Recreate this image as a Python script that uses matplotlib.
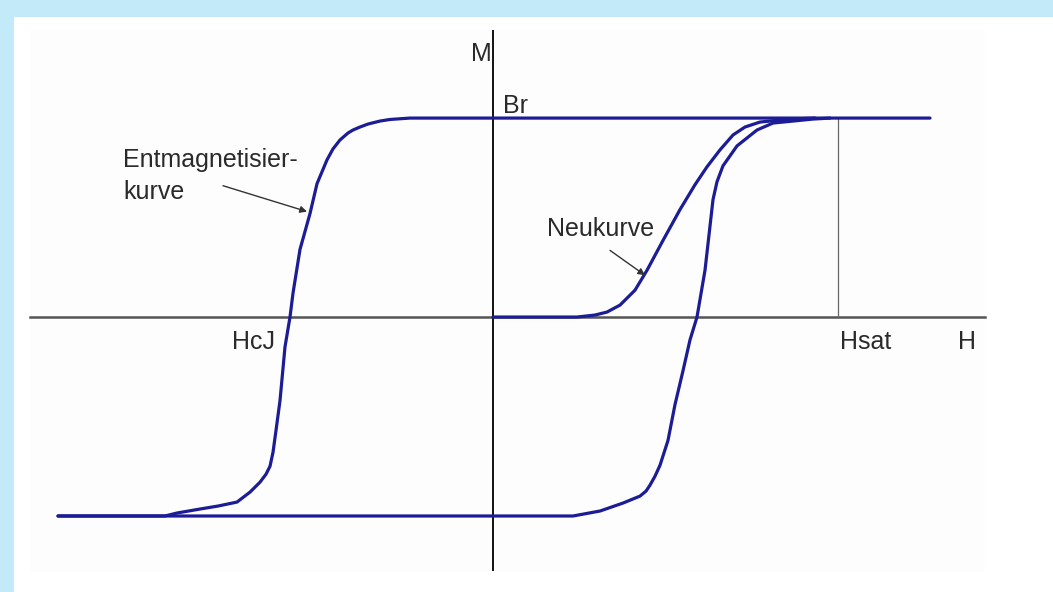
import matplotlib.pyplot as plt
from matplotlib.patches import Rectangle

# Hysteresis loop, values (H, M normalised to Br = 1)
upper_H = [4.37, -0.43, -0.83, -1.03, -1.13, -1.25, -1.33, -1.40, -1.45, -1.53, -1.60, -1.66,
           -1.76, -1.83, -1.93, -2.00, -2.03, -2.08, -2.13, -2.17, -2.20, -2.23, -2.27,
           -2.33, -2.43, -2.56, -2.75, -2.93, -3.16, -3.28, -4.35]
upper_M = [1.0, 1.0, 1.0, 0.993, 0.985, 0.97, 0.955, 0.94, 0.925, 0.89, 0.845, 0.79,
           0.67, 0.52, 0.34, 0.12, 0.0, -0.15, -0.42, -0.57, -0.68, -0.75, -0.79,
           -0.83, -0.88, -0.93, -0.95, -0.965, -0.985, -1.0, -1.0]

lower_H = [-4.35, 0.80, 1.07, 1.30, 1.47, 1.53, 1.57, 1.62, 1.67, 1.75, 1.82, 1.90, 1.97,
           2.04, 2.12, 2.20, 2.24, 2.30, 2.44, 2.64, 2.80, 3.20, 3.37]
lower_M = [-1.0, -1.0, -0.975, -0.935, -0.9, -0.875, -0.845, -0.8, -0.745, -0.62, -0.44,
           -0.27, -0.115, 0.0, 0.235, 0.59, 0.68, 0.76, 0.86, 0.94, 0.975, 0.995, 1.0]

virgin_H = [0.0, 0.84, 1.02, 1.14, 1.27, 1.42, 1.54, 1.70, 1.87, 2.02, 2.14, 2.27,
            2.40, 2.52, 2.67, 2.97, 3.22]
virgin_M = [0.0, 0.0, 0.01, 0.025, 0.06, 0.135, 0.235, 0.385, 0.54, 0.665, 0.755, 0.84,
            0.915, 0.955, 0.98, 0.995, 1.0]

H_sat = 3.45
H_cJ = -2.03

curve_col = '#1c1c96'
text_col = '#2a2a2a'

plt.rcParams['font.family'] = ['Liberation Sans', 'DejaVu Sans']

fig = plt.figure(figsize=(10.53, 5.92), dpi=100, facecolor='#c2eaf9')
ax = fig.add_axes([14 / 1053, 0, 1 - 14 / 1053, 1 - 17 / 592])
ax.set_facecolor('white')
ax.set_xlim(-4.79, 5.60)
ax.set_ylim(-1.382, 1.508)
ax.axis('off')
ax.add_patch(Rectangle((-4.79, -1.382), 10.39, 2.89, facecolor='white', zorder=0))
ax.add_patch(Rectangle((-4.63, -1.28), 9.55, 2.73, facecolor='#fdfdfd',
                       edgecolor='none', zorder=0))

# axes
ax.plot([-4.63, 4.92], [0, 0], color='#555555', lw=1.8, zorder=1)
ax.plot([0, 0], [-1.27, 1.44], color='#111111', lw=1.4, zorder=1)
ax.plot([H_sat, H_sat], [0, 1.0], color='#666666', lw=0.9, zorder=1)

# curves
for hh, mm in [(upper_H, upper_M), (lower_H, lower_M), (virgin_H, virgin_M)]:
    ax.plot(hh, mm, color=curve_col, lw=2.3, solid_joinstyle='round',
            solid_capstyle='round', zorder=3)

fs = 18
ax.text(-0.12, 1.32, 'M', fontsize=fs, color=text_col, ha='center', va='center')
ax.text(0.10, 1.06, 'Br', fontsize=fs, color=text_col, ha='left', va='center')
ax.text(H_cJ - 0.37, -0.125, 'HcJ', fontsize=fs, color=text_col, ha='center', va='center')
ax.text(H_sat + 0.28, -0.125, 'Hsat', fontsize=fs, color=text_col, ha='center', va='center')
ax.text(4.74, -0.125, 'H', fontsize=fs, color=text_col, ha='center', va='center')
ax.text(-3.70, 0.79, 'Entmagnetisier-', fontsize=fs, color=text_col, ha='left', va='center')
ax.text(-3.70, 0.63, 'kurve', fontsize=fs, color=text_col, ha='left', va='center')
ax.text(0.54, 0.44, 'Neukurve', fontsize=fs, color=text_col, ha='left', va='center')

arrow = dict(arrowstyle='-|>', color='#333333', lw=1.0, mutation_scale=10,
             shrinkA=0, shrinkB=0)
ax.annotate('', xy=(-1.86, 0.53), xytext=(-2.70, 0.66), arrowprops=arrow)
ax.annotate('', xy=(1.52, 0.21), xytext=(1.17, 0.335), arrowprops=arrow)

fig.savefig('out.png', dpi=100, facecolor=fig.get_facecolor())
